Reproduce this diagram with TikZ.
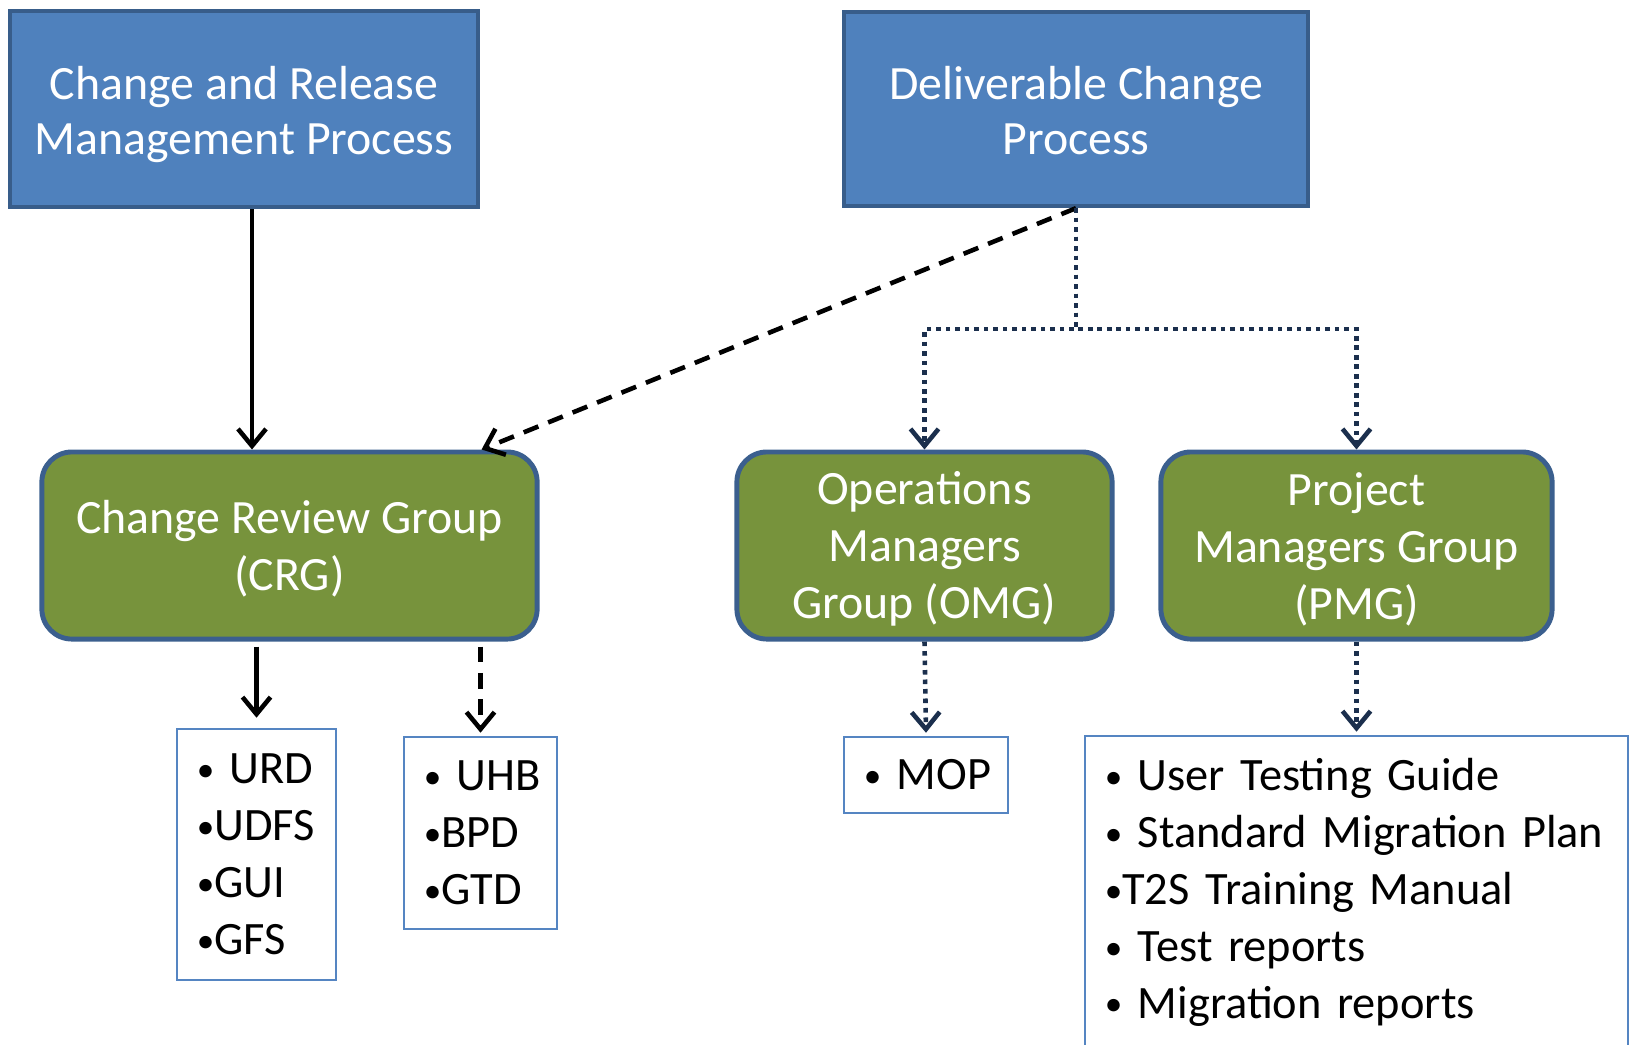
\documentclass[tikz,border=0pt]{standalone}
\usepackage{fontspec}
\setmainfont{Carlito}
\usetikzlibrary{arrows.meta}

\definecolor{procfill}{HTML}{4F81BD}
\definecolor{procline}{HTML}{385D8A}
\definecolor{groupfill}{HTML}{77933C}
\definecolor{groupline}{HTML}{3B5F8E}
\definecolor{docline}{HTML}{5585C2}
\definecolor{dotnavy}{HTML}{1B2F4D}

% 小さい箇条書きの点
\newcommand{\bul}{\raisebox{0.6pt}{\fontsize{10}{10}\selectfont •}}
\newcommand{\topgap}[1]{\rule{0pt}{#1}}

\begin{document}
\begin{tikzpicture}[x=0.01cm, y=0.01cm,
		>={Straight Barb[length=1.7mm,width=2.8mm]},
		procbox/.style={rectangle, draw=procline, fill=procfill, line width=1.2pt,
			text=white, align=center, font=\fontsize{13.6}{15.6}\selectfont},
		groupbox/.style={rectangle, rounded corners=0.3cm, draw=groupline, fill=groupfill,
			line width=1.4pt, text=white, align=center, font=\fontsize{13.6}{16.2}\selectfont},
		docbox/.style={rectangle, draw=docline, line width=0.7pt, align=left,
			inner xsep=0.2cm, font=\fontsize{13.2}{16.2}\selectfont},
		solidarrow/.style={->, line width=1.3pt},
		dasharrow/.style={->, line width=1.3pt, dash pattern=on 4.5pt off 3pt},
		dotarrow/.style={->, line width=1.3pt, draw=dotnavy, dash pattern=on 1.3pt off 1.4pt}]

		\useasboundingbox (0, 0) rectangle (1633, -1044);

		% 上段のプロセスを描画
		\node[procbox, minimum width=4.68cm, minimum height=1.96cm] (crm) at (244, -109)
			{\topgap{15pt}Change and Release\\\strut Management Process};
		\node[procbox, minimum width=4.64cm, minimum height=1.94cm] (dcp) at (1076, -109)
			{\topgap{15pt}Deliverable Change\\\strut Process};

		% グループを描画
		\node[groupbox, minimum width=4.95cm, minimum height=1.87cm] (crg) at (289.5, -545.5)
			{\topgap{11.5pt}Change Review Group\\(CRG)};
		\node[groupbox, minimum width=3.75cm, minimum height=1.87cm] (omg) at (924.5, -545.5)
			{\topgap{11.5pt}Operations\\Managers\\Group (OMG)};
		\node[groupbox, minimum width=3.91cm, minimum height=1.87cm] (pmg) at (1356.5, -545.5)
			{\topgap{11.5pt}Project\\Managers Group\\(PMG)};

		% 文書の箱を描画
		\node[docbox, text width=1.19cm, minimum height=2.51cm] (urd) at (256.5, -854.5)
			{\bul~URD\\\bul UDFS\\\bul GUI\\\bul GFS};
		\node[docbox, text width=1.13cm, minimum height=1.92cm] (uhb) at (480.5, -833)
			{\bul~UHB\\\bul BPD\\\bul GTD};
		\node[docbox, text width=1.24cm, minimum height=0.76cm] (mop) at (926, -775)
			{\bul~MOP};
		\node[docbox, text width=5.03cm, minimum height=3.12cm] (pmgdocs) at (1356.5, -892)
			{\bul~User~Testing~Guide\\\bul~Standard~Migration~Plan\\\bul T2S~Training~Manual\\\bul~Test~reports\\\bul~Migration~reports};

		% 実線と破線の矢印を描画
		\draw[solidarrow] ([xshift=0.08cm]crm.south) -- ([xshift=0.08cm]crm.south |- crg.north);
		\draw[dasharrow] (dcp.south) -- ([xshift=-0.58cm]crg.north east);
		\draw[solidarrow] ([yshift=-0.05cm]crg.south -| urd.north) -- ([yshift=0.1cm]urd.north);
		\draw[dasharrow] ([yshift=-0.05cm]crg.south -| uhb.north) -- ([yshift=0.03cm]uhb.north);

		% 点線の矢印を描画
		\draw[dotarrow] (dcp.south) -- ++(0, -121) -| (omg.north);
		\draw[dotarrow] (dcp.south) -- ++(0, -121) -| (pmg.north);
		\draw[dotarrow] (omg.south) -- ([yshift=0.03cm]mop.north);
		\draw[dotarrow] (pmg.south) -- ([yshift=0.03cm]pmgdocs.north);

	\end{tikzpicture}
\end{document}
